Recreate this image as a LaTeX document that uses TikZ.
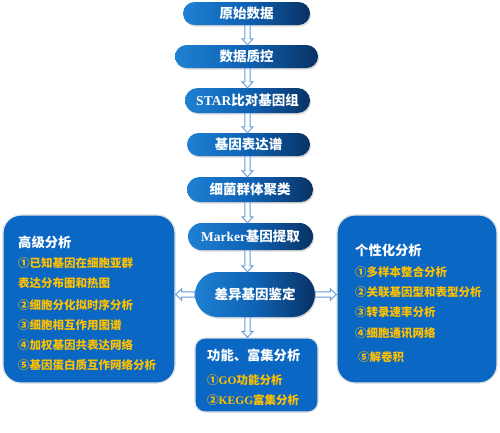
\documentclass[tikz,border=0pt]{standalone}
\usepackage{fontspec}
\newfontfamily\cjk{Noto Sans CJK SC}
\newfontfamily\lat{Liberation Serif}
\usetikzlibrary{shapes.misc,calc,shadows}
\definecolor{boxblue}{RGB}{10,104,196}
\definecolor{gold}{RGB}{255,192,0}
\definecolor{arrowc}{RGB}{100,155,215}
\definecolor{pillL}{RGB}{30,128,210}
\definecolor{pillM}{RGB}{15,98,180}
\definecolor{pillR}{RGB}{8,50,100}
\begin{document}
\begin{tikzpicture}[x=1pt,y=-1pt,
 pill/.style={rounded rectangle, inner sep=0pt, left color=pillL, right color=pillR, middle color=pillM, text=white, font=\cjk\bfseries\fontsize{13.5}{15}\selectfont, drop shadow={opacity=0.3, shadow xshift=1pt, shadow yshift=-1.5pt}},
 bigbox/.style={rectangle, fill=boxblue, draw=black!12, line width=1.2pt, inner sep=0pt},
 ttl/.style={anchor=west, text=white, font=\cjk\bfseries\fontsize{13.3}{15}\selectfont, inner sep=0pt},
 item/.style={anchor=west, text=gold, font=\cjk\bfseries\fontsize{11.5}{14}\selectfont, inner sep=0pt},
 hollow/.style={draw=arrowc, fill=white, line width=0.9pt, line join=miter, to path={
  ($(\tikztostart)!2.6pt!90:(\tikztotarget)$)
  -- ($($(\tikztotarget)!6pt!(\tikztostart)$)!2.6pt!90:(\tikztotarget)$)
  -- ($($(\tikztotarget)!6pt!(\tikztostart)$)!5.5pt!90:(\tikztotarget)$)
  -- (\tikztotarget)
  -- ($($(\tikztotarget)!6pt!(\tikztostart)$)!5.5pt!-90:(\tikztotarget)$)
  -- ($($(\tikztotarget)!6pt!(\tikztostart)$)!2.6pt!-90:(\tikztotarget)$)
  -- ($(\tikztostart)!2.6pt!-90:(\tikztotarget)$) -- cycle}},
]
\useasboundingbox (0,0) rectangle (500,432);
\fill[white] (0,0) rectangle (500,432);

% big boxes
\node[bigbox, rounded corners=18pt, minimum width=172pt, minimum height=168pt] (L) at (89,299) {};
\node[bigbox, rounded corners=18pt, minimum width=160pt, minimum height=168pt] (R) at (417,299) {};
\node[bigbox, rounded corners=10pt, minimum width=123pt, minimum height=74pt] (B) at (256.5,375) {};

% pills
\node[pill, minimum width=127pt, minimum height=23pt] (p1) at (246.5,13.5) {原始数据};
\node[pill, minimum width=143pt, minimum height=23pt] (p2) at (246.5,56.5) {数据质控};
\node[pill, minimum width=125pt, minimum height=25pt] (p3) at (247.5,100.5) {{\lat\bfseries STAR}比对基因组};
\node[pill, minimum width=123pt, minimum height=23pt] (p4) at (248.5,144.5) {基因表达谱};
\node[pill, minimum width=126pt, minimum height=25pt] (p5) at (250,189.5) {细菌群体聚类};
\node[pill, minimum width=125pt, minimum height=27pt] (p6) at (250.5,236.5) {{\lat\bfseries Marker}基因提取};
\node[pill, minimum width=120pt, minimum height=45pt] (p7) at (255,294.5) {差异基因鉴定};

% arrows
\coordinate (ax) at (247.5,0);
\draw[hollow] (p1.south -| ax) to (p2.north -| ax);
\draw[hollow] (p2.south -| ax) to (p3.north -| ax);
\draw[hollow] (p3.south -| ax) to (p4.north -| ax);
\draw[hollow] (p4.south -| ax) to (p5.north -| ax);
\draw[hollow] (p5.south -| ax) to (p6.north -| ax);
\draw[hollow] (p6.south -| ax) to (p7.north -| ax);
\draw[hollow] (p7.south -| ax) to (B.north -| ax);
\draw[hollow] (p7.west) to (L.east |- p7.west);
\draw[hollow] (p7.east) to (R.west |- p7.east);

% left box text
\node[ttl] (lt) at (18,242) {高级分析};
\node[item] (l1) at (18,263) {①已知基因在细胞亚群};
\node[item] (l1b) at (18,283) {表达分布图和热图};
\node[item] (l2) at (18,305) {②细胞分化拟时序分析};
\node[item] (l3) at (18,325) {③细胞相互作用图谱};
\node[item] (l4) at (18,345) {④加权基因共表达网络};
\node[item] (l5) at (18,365) {⑤基因蛋白质互作网络分析};

% right box text
\node[ttl] (rt) at (355,250) {个性化分析};
\node[item] (r1) at (355,272) {①多样本整合分析};
\node[item] (r2) at (355,292) {②关联基因型和表型分析};
\node[item] (r3) at (355,312) {③转录速率分析};
\node[item] (r4) at (355,333) {④细胞通讯网络};
\node[item] (r5) at (358,357) {⑤解卷积};

% bottom box text
\node[ttl] (bt) at (207,355) {功能、富集分析};
\node[item] (b1) at (207,380) {①{\lat\bfseries GO}功能分析};
\node[item] (b2) at (207,400) {②{\lat\bfseries KEGG}富集分析};
\end{tikzpicture}
\end{document}
